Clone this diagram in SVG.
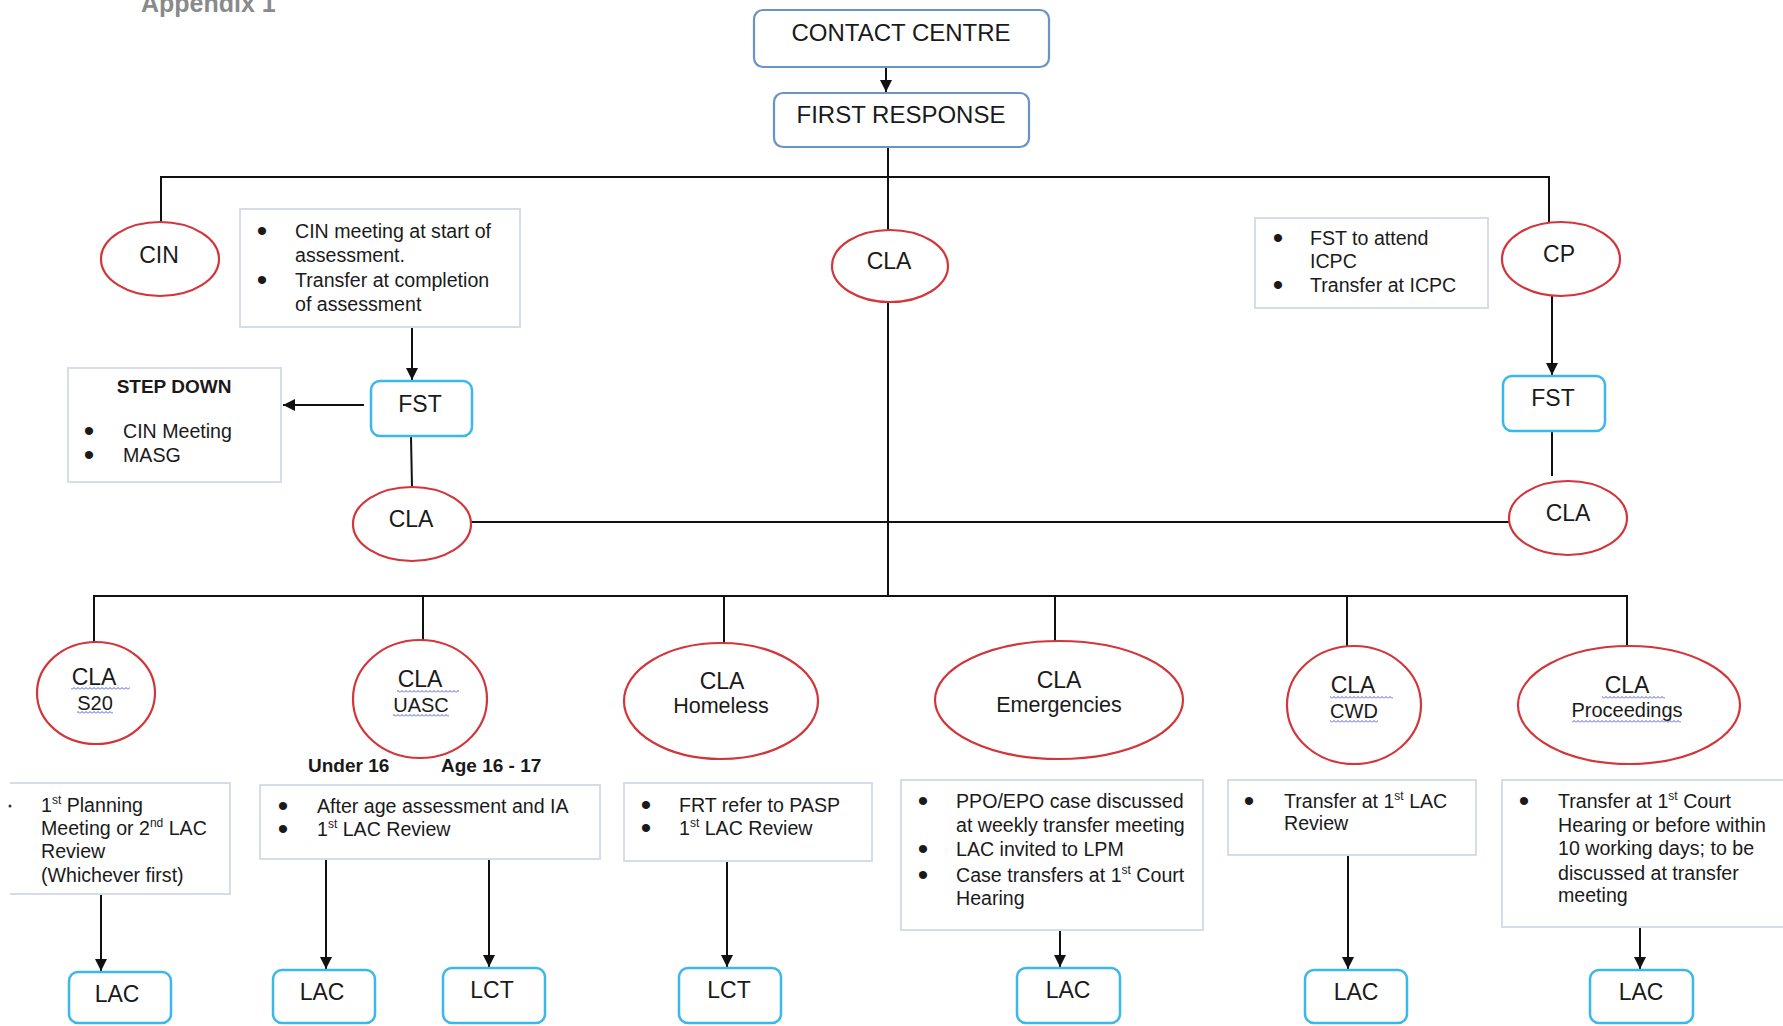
<svg xmlns="http://www.w3.org/2000/svg" width="1783" height="1026" viewBox="0 0 1783 1026">
<defs>
<style>
.red{fill:#fff;stroke:#d2353a;stroke-width:2.2}
.blue{fill:#fff;stroke:#6a93c8;stroke-width:2.2}
.cyan{fill:#fff;stroke:#3ab7ec;stroke-width:2.5}
.note{fill:#fff;stroke:#d6dde8;stroke-width:2}
text{font-family:"Liberation Sans",Arial,sans-serif;fill:#1a1a1a}
.lbl{font-size:23px;text-anchor:middle}
.lbl2{font-size:20px;text-anchor:middle}
.lbl3{font-size:21.5px;text-anchor:middle}
.big{font-size:24px;text-anchor:middle}
.b{font-size:19.6px}
.bu{font-size:30px;text-anchor:middle}
.bold{font-size:19px;font-weight:bold}
.sup{font-size:12px}
#connectors line,#connectors path{stroke:#111;stroke-width:2;fill:none}
.arrow{marker-end:url(#ah)}
.wavy{fill:url(#wv)}
</style>
<marker id="ah" viewBox="0 0 10 10" refX="10" refY="5" markerWidth="12" markerHeight="12" markerUnits="userSpaceOnUse" orient="auto"><path d="M0,0 L10,5 L0,10 z" fill="#111"/></marker>
<pattern id="wv" width="4" height="3" patternUnits="userSpaceOnUse"><path d="M0,2.5 L2,0.5 L4,2.5" fill="none" stroke="#3a4bd8" stroke-width="0.9"/></pattern>
</defs>
<rect width="1783" height="1026" fill="#fff"/>
<text x="141" y="12" style="font-size:25px;font-weight:bold;fill:#8a8a8a">Appendix 1</text>

<g id="connectors">
<line class="arrow" x1="886" y1="67" x2="886" y2="92"/>
<line x1="888" y1="147" x2="888" y2="231"/>
<path d="M161,222 V177 H1549 V222"/>
<line x1="888" y1="302" x2="888" y2="596"/>
<line class="arrow" x1="412" y1="327" x2="412" y2="380"/>
<line class="arrow" x1="364" y1="405" x2="283" y2="405"/>
<line x1="411" y1="437" x2="412" y2="487"/>
<line x1="471" y1="522" x2="1510" y2="522"/>
<line class="arrow" x1="1552" y1="296" x2="1552" y2="375"/>
<line x1="1552" y1="431" x2="1552" y2="476"/>
<path d="M94,642 V596 H1627 V646"/>
<line x1="423" y1="596" x2="423" y2="640"/>
<line x1="724" y1="596" x2="724" y2="643"/>
<line x1="1055" y1="596" x2="1055" y2="641"/>
<line x1="1347" y1="596" x2="1347" y2="646"/>
<line class="arrow" x1="101" y1="894" x2="101" y2="971"/>
<line class="arrow" x1="326" y1="859" x2="326" y2="969"/>
<line class="arrow" x1="489" y1="859" x2="489" y2="967"/>
<line class="arrow" x1="727" y1="861" x2="727" y2="967"/>
<line class="arrow" x1="1060" y1="930" x2="1060" y2="967"/>
<line class="arrow" x1="1348" y1="855" x2="1348" y2="969"/>
<line class="arrow" x1="1640" y1="927" x2="1640" y2="969"/>
</g>

<g id="contact-centre"><rect class="blue" x="754" y="10" width="295" height="57" rx="9"/><text class="big" x="901" y="41">CONTACT CENTRE</text></g>
<g id="first-response"><rect class="blue" x="774" y="93" width="255" height="54" rx="9"/><text class="big" x="901" y="123">FIRST RESPONSE</text></g>

<g id="cin"><ellipse class="red" cx="160" cy="259" rx="59" ry="37"/><text class="lbl" x="159" y="263">CIN</text></g>
<g id="cin-note"><rect class="note" x="240" y="209" width="280" height="118"/>
<text class="bu" x="262" y="241">•</text><text class="b" x="295" y="238">CIN meeting at start of</text>
<text class="b" x="295" y="262">assessment.</text>
<text class="bu" x="262" y="290">•</text><text class="b" x="295" y="287">Transfer at completion</text>
<text class="b" x="295" y="311">of assessment</text></g>
<g id="cla-centre"><ellipse class="red" cx="890" cy="266" rx="58" ry="36"/><text class="lbl" x="889" y="269">CLA</text></g>
<g id="cp-note"><rect class="note" x="1255" y="218" width="233" height="90"/>
<text class="bu" x="1278" y="248">•</text><text class="b" x="1310" y="245">FST to attend</text>
<text class="b" x="1310" y="268">ICPC</text>
<text class="bu" x="1278" y="295">•</text><text class="b" x="1310" y="292">Transfer at ICPC</text></g>
<g id="cp"><ellipse class="red" cx="1561" cy="259" rx="59" ry="37"/><text class="lbl" x="1559" y="262">CP</text></g>

<g id="step-down"><rect class="note" x="68" y="368" width="213" height="114"/>
<text class="bold" x="174" y="393" text-anchor="middle">STEP DOWN</text>
<text class="bu" x="89" y="441">•</text><text class="b" x="123" y="438">CIN Meeting</text>
<text class="bu" x="89" y="465">•</text><text class="b" x="123" y="462">MASG</text></g>
<g id="fst-left"><rect class="cyan" x="371" y="381" width="101" height="55" rx="9"/><text class="lbl" x="420" y="412">FST</text></g>
<g id="cla-left"><ellipse class="red" cx="412" cy="524" rx="59" ry="37"/><text class="lbl" x="411" y="527">CLA</text></g>
<g id="fst-right"><rect class="cyan" x="1503" y="376" width="102" height="55" rx="9"/><text class="lbl" x="1553" y="406">FST</text></g>
<g id="cla-right"><ellipse class="red" cx="1568" cy="518" rx="59" ry="37"/><text class="lbl" x="1568" y="521">CLA</text></g>

<g id="cla-s20"><ellipse class="red" cx="96" cy="693" rx="59" ry="51"/><text class="lbl" x="94" y="685">CLA</text><text class="lbl2" x="95" y="710">S20</text>
<rect class="wavy" x="71" y="687" width="59" height="3"/><rect class="wavy" x="77" y="711" width="36" height="3"/></g>
<g id="cla-uasc"><ellipse class="red" cx="420" cy="699" rx="67" ry="59"/><text class="lbl" x="420" y="687">CLA</text><text class="lbl2" x="421" y="712">UASC</text>
<rect class="wavy" x="397" y="690" width="62" height="3"/><rect class="wavy" x="393" y="714" width="56" height="3"/></g>
<g id="cla-homeless"><ellipse class="red" cx="721" cy="701" rx="97" ry="58"/><text class="lbl" x="722" y="689">CLA</text><text class="lbl3" x="721" y="713">Homeless</text></g>
<g id="cla-emergencies"><ellipse class="red" cx="1059" cy="700" rx="124" ry="59"/><text class="lbl" x="1059" y="688">CLA</text><text class="lbl3" x="1059" y="712">Emergencies</text></g>
<g id="cla-cwd"><ellipse class="red" cx="1354" cy="705" rx="67" ry="59"/><text class="lbl" x="1353" y="693">CLA</text><text class="lbl2" x="1354" y="718">CWD</text>
<rect class="wavy" x="1330" y="696" width="63" height="3"/><rect class="wavy" x="1330" y="720" width="48" height="3"/></g>
<g id="cla-proceedings"><ellipse class="red" cx="1629" cy="705" rx="111" ry="59"/><text class="lbl" x="1627" y="693">CLA</text><text class="lbl2" x="1627" y="717">Proceedings</text>
<rect class="wavy" x="1602" y="696" width="63" height="3"/><rect class="wavy" x="1572" y="720" width="109" height="3"/></g>

<g id="age-labels"><text class="bold" x="308" y="772">Under 16</text><text class="bold" x="441" y="772">Age 16 - 17</text></g>

<g id="s20-note"><path class="note" d="M10,783 H230 V894 H10"/><circle cx="10" cy="806" r="1.5" fill="#333"/>
<text class="b" x="41" y="812">1<tspan class="sup" dy="-8">st</tspan><tspan dy="8"> Planning</tspan></text>
<text class="b" x="41" y="835">Meeting or 2<tspan class="sup" dy="-8">nd</tspan><tspan dy="8"> LAC</tspan></text>
<text class="b" x="41" y="858">Review</text>
<text class="b" x="41" y="882">(Whichever first)</text></g>
<g id="uasc-note"><rect class="note" x="260" y="785" width="340" height="74"/>
<text class="bu" x="283" y="816">•</text><text class="b" x="317" y="813">After age assessment and IA</text>
<text class="bu" x="283" y="839">•</text><text class="b" x="317" y="836">1<tspan class="sup" dy="-8">st</tspan><tspan dy="8"> LAC Review</tspan></text></g>
<g id="homeless-note"><rect class="note" x="624" y="783" width="248" height="78"/>
<text class="bu" x="646" y="815">•</text><text class="b" x="679" y="812">FRT refer to PASP</text>
<text class="bu" x="646" y="838">•</text><text class="b" x="679" y="835">1<tspan class="sup" dy="-8">st</tspan><tspan dy="8"> LAC Review</tspan></text></g>
<g id="emergencies-note"><rect class="note" x="901" y="780" width="302" height="150"/>
<text class="bu" x="923" y="811">•</text><text class="b" x="956" y="808">PPO/EPO case discussed</text>
<text class="b" x="956" y="832">at weekly transfer meeting</text>
<text class="bu" x="923" y="859">•</text><text class="b" x="956" y="856">LAC invited to LPM</text>
<text class="bu" x="923" y="885">•</text><text class="b" x="956" y="882">Case transfers at 1<tspan class="sup" dy="-8">st</tspan><tspan dy="8"> Court</tspan></text>
<text class="b" x="956" y="905">Hearing</text></g>
<g id="cwd-note"><rect class="note" x="1228" y="780" width="248" height="75"/>
<text class="bu" x="1249" y="811">•</text><text class="b" x="1284" y="808">Transfer at 1<tspan class="sup" dy="-8">st</tspan><tspan dy="8"> LAC</tspan></text>
<text class="b" x="1284" y="830">Review</text></g>
<g id="proceedings-note"><path class="note" d="M1790,780 H1502 V927 H1790"/>
<text class="bu" x="1524" y="811">•</text><text class="b" x="1558" y="808">Transfer at 1<tspan class="sup" dy="-8">st</tspan><tspan dy="8"> Court</tspan></text>
<text class="b" x="1558" y="832">Hearing or before within</text>
<text class="b" x="1558" y="855">10 working days; to be</text>
<text class="b" x="1558" y="880">discussed at transfer</text>
<text class="b" x="1558" y="902">meeting</text></g>

<g id="lac-s20"><rect class="cyan" x="69" y="972" width="102" height="51" rx="9"/><text class="lbl" x="117" y="1002">LAC</text></g>
<g id="lac-uasc"><rect class="cyan" x="273" y="970" width="102" height="53" rx="9"/><text class="lbl" x="322" y="1000">LAC</text></g>
<g id="lct-uasc"><rect class="cyan" x="443" y="968" width="102" height="55" rx="9"/><text class="lbl" x="492" y="998">LCT</text></g>
<g id="lct-homeless"><rect class="cyan" x="679" y="968" width="102" height="55" rx="9"/><text class="lbl" x="729" y="998">LCT</text></g>
<g id="lac-emergencies"><rect class="cyan" x="1017" y="968" width="103" height="55" rx="9"/><text class="lbl" x="1068" y="998">LAC</text></g>
<g id="lac-cwd"><rect class="cyan" x="1305" y="970" width="102" height="53" rx="9"/><text class="lbl" x="1356" y="1000">LAC</text></g>
<g id="lac-proceedings"><rect class="cyan" x="1590" y="970" width="103" height="53" rx="9"/><text class="lbl" x="1641" y="1000">LAC</text></g>
</svg>
